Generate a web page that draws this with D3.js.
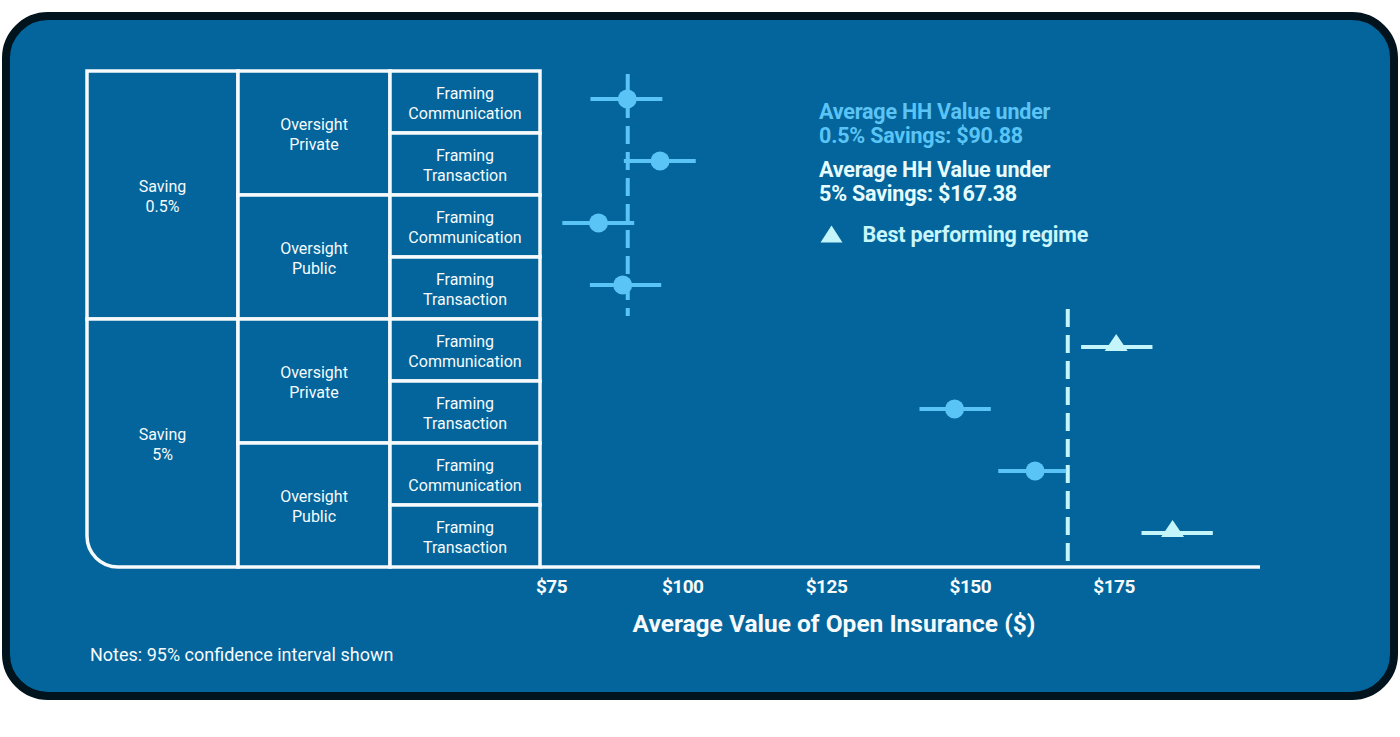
<!DOCTYPE html>
<html>
<head>
<meta charset="utf-8">
<script src="https://cdn.jsdelivr.net/npm/d3@7"></script>
<style>
  body { margin: 0; background: #fff; }
  svg { display: block; font-family: Roboto, "Noto Sans", sans-serif; }
</style>
</head>
<body>
<svg id="chart"></svg>
<script>
// data
const savings = ["Saving\n0.5%", "Saving\n5%"];
const oversight = ["Oversight\nPrivate", "Oversight\nPublic"];
const framing = ["Framing\nCommunication", "Framing\nTransaction"];
const estimate = [90.8, 96.5, 85.8, 90.0, 175.8, 147.7, 161.7, 185.6];
const ciLow = [84.4, 90.2, 79.5, 84.3, 169.7, 141.6, 155.3, 180.2];
const ciHigh = [96.9, 102.7, 92.0, 96.7, 182.1, 154.0, 167.1, 192.6];
const best = [false, false, false, false, true, false, false, true];
const groupMeans = [90.88, 167.38];
const meanLabels = ["Average HH Value under\n0.5% Savings: $90.88", "Average HH Value under\n5% Savings: $167.38"];
const tickValues = [75, 100, 125, 150, 175];

const W = 1400, H = 737;
const bg = "#03659b", frameCol = "#01131d";
const blue = "#5bc4f6", pale = "#c3f5fb", white = "#f6fafc";

const svg = d3.select("#chart").attr("width", W).attr("height", H);

// card
svg.append("rect")
  .attr("x", 6).attr("y", 16).attr("width", 1388).attr("height", 680)
  .attr("rx", 42).attr("fill", bg)
  .attr("stroke", frameCol).attr("stroke-width", 8);

const tableTop = 71, tableBottom = 567;
const colEdges = [87, 238, 390, 540];
const rows = d3.range(estimate.length);
const y = d3.scaleBand().domain(rows).range([tableTop, tableBottom]);
const x = d3.scaleLinear().domain([75, 175]).range([536.4, 1111.6]);

// table of regimes
const table = svg.append("g");
const cells = [];
savings.forEach((s, i) => cells.push({ col: 0, r0: i * 4, n: 4, label: s }));
for (let g = 0; g < 4; g++) cells.push({ col: 1, r0: g * 2, n: 2, label: oversight[g % 2] });
rows.forEach(r => cells.push({ col: 2, r0: r, n: 1, label: framing[r % 2] }));

const corner = 31;
function cellPath(c) {
  const x0 = colEdges[c.col], x1 = colEdges[c.col + 1];
  const y0 = y(c.r0), y1 = y(c.r0) + y.step() * c.n;
  if (c.col === 0 && c.r0 + c.n === rows.length) {
    return `M${x0},${y0}H${x1}V${y1}H${x0 + corner}A${corner},${corner} 0 0 1 ${x0},${y1 - corner}Z`;
  }
  return `M${x0},${y0}H${x1}V${y1}H${x0}Z`;
}
table.selectAll("path")
  .data(cells).enter().append("path")
  .attr("d", cellPath)
  .attr("fill", bg)
  .attr("stroke", white)
  .attr("stroke-width", 3.5);

table.selectAll("text")
  .data(cells).enter().append("text")
  .attr("text-anchor", "middle")
  .attr("fill", white)
  .attr("font-size", 16)
  .attr("x", c => (colEdges[c.col] + colEdges[c.col + 1]) / 2)
  .attr("y", c => y(c.r0) + y.step() * c.n / 2)
  .each(function (c) {
    const lines = c.label.split("\n");
    d3.select(this).selectAll("tspan")
      .data(lines).enter().append("tspan")
      .attr("x", (colEdges[c.col] + colEdges[c.col + 1]) / 2)
      .attr("dy", (d, i) => i === 0 ? -3 : 20)
      .text(d => d);
  });

// x axis
svg.append("line")
  .attr("x1", colEdges[3]).attr("x2", 1260)
  .attr("y1", tableBottom).attr("y2", tableBottom)
  .attr("stroke", white).attr("stroke-width", 3.5);

const axis = svg.append("g")
  .attr("transform", `translate(0,${tableBottom})`)
  .call(d3.axisBottom(x).tickValues(tickValues).tickSize(0).tickFormat(d => "$" + d));
axis.select(".domain").remove();
axis.selectAll("text")
  .attr("fill", white)
  .attr("font-family", "Roboto, sans-serif")
  .attr("font-size", 19)
  .attr("font-weight", "bold")
  .attr("letter-spacing", -0.5)
  .attr("dy", 0)
  .attr("y", 26)
  .attr("dx", (d, i) => i === 0 ? -1 : 2)
  .attr("text-anchor", (d, i) => i === 0 ? "start" : "middle");

svg.append("text")
  .attr("x", 834).attr("y", 632)
  .attr("text-anchor", "middle")
  .attr("fill", white)
  .attr("font-size", 24.5)
  .attr("font-weight", "bold")
  .text("Average Value of Open Insurance ($)");

svg.append("text")
  .attr("x", 90).attr("y", 661)
  .attr("fill", white)
  .attr("font-size", 18)
  .text("Notes: 95% confidence interval shown");

// group mean reference lines
const meanSpans = [[74, 316], [309, 561]];
svg.selectAll(".mean")
  .data(groupMeans).enter().append("line")
  .attr("class", "mean")
  .attr("x1", d => x(d)).attr("x2", d => x(d))
  .attr("y1", (d, i) => meanSpans[i][0]).attr("y2", (d, i) => meanSpans[i][1])
  .attr("stroke", (d, i) => i === 0 ? blue : pale)
  .attr("stroke-width", 4)
  .attr("stroke-dasharray", "18,8");

// estimates with 95% CI
const py = r => y(r) + y.bandwidth() / 2 - 3;
const colorOf = r => best[r] ? pale : blue;

svg.selectAll(".ci")
  .data(rows).enter().append("line")
  .attr("class", "ci")
  .attr("x1", r => x(ciLow[r])).attr("x2", r => x(ciHigh[r]))
  .attr("y1", py).attr("y2", py)
  .attr("stroke", colorOf)
  .attr("stroke-width", 4);

const tri = (w, h) => `M0,${-h}L${w / 2},0L${-w / 2},0Z`;

svg.selectAll(".pt")
  .data(rows.filter(r => !best[r])).enter().append("circle")
  .attr("class", "pt")
  .attr("cx", r => x(estimate[r])).attr("cy", py)
  .attr("r", 9.5)
  .attr("fill", blue);

svg.selectAll(".best")
  .data(rows.filter(r => best[r])).enter().append("path")
  .attr("class", "best")
  .attr("transform", r => `translate(${x(estimate[r])},${py(r) + 4})`)
  .attr("d", tri(23, 17))
  .attr("fill", pale);

// legend
const legend = svg.append("g").attr("font-size", 21.5).attr("font-weight", "bold").attr("letter-spacing", -0.2);
meanLabels.forEach((lab, i) => {
  const t = legend.append("text")
    .attr("x", 819).attr("y", 119 + i * 58.3)
    .attr("fill", i === 0 ? blue : "#e6fcff");
  lab.split("\n").forEach((line, j) => {
    t.append("tspan").attr("x", 819).attr("dy", j === 0 ? 0 : 23.5).text(line);
  });
});
legend.append("path")
  .attr("transform", "translate(831.5,242.5)")
  .attr("d", tri(22, 17))
  .attr("fill", pale);
legend.append("text")
  .attr("x", 862.5).attr("y", 241.5)
  .attr("fill", "#c9f6fc")
  .text("Best performing regime");
</script>
</body>
</html>
